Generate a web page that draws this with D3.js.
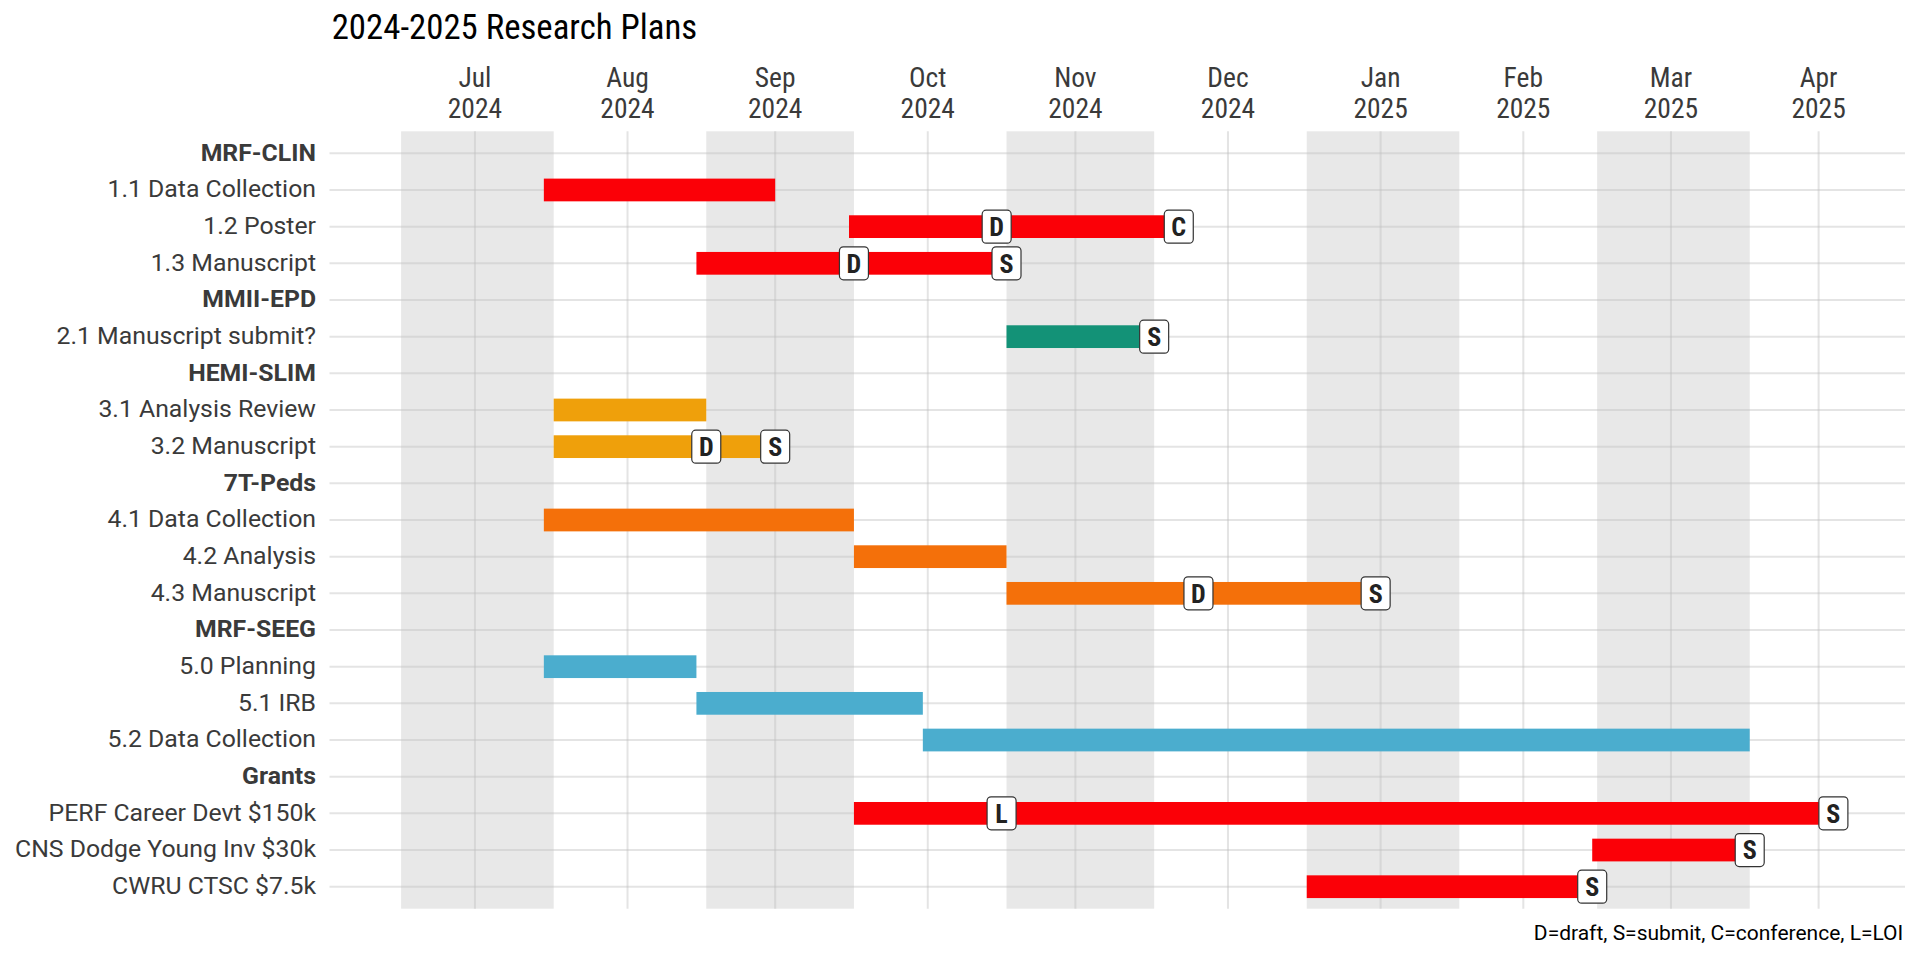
<!DOCTYPE html>
<html>
<head>
<meta charset="utf-8">
<script src="https://cdn.jsdelivr.net/npm/d3@7"></script>
<style>
  html, body { margin: 0; padding: 0; background: #fff; }
  svg { display: block; }
  text { font-family: Roboto, sans-serif; }
  .cond { font-stretch: 75%; }
  .reg { font-stretch: 100%; }
</style>
</head>
<body>
<svg id="chart" width="1920" height="960"></svg>
<script>
// ---------------- data ----------------
const title = "2024-2025 Research Plans";
const caption = "D=draft, S=submit, C=conference, L=LOI";

const rowLabels = [
  "MRF-CLIN", "1.1 Data Collection", "1.2 Poster", "1.3 Manuscript",
  "MMII-EPD", "2.1 Manuscript submit?",
  "HEMI-SLIM", "3.1 Analysis Review", "3.2 Manuscript",
  "7T-Peds", "4.1 Data Collection", "4.2 Analysis", "4.3 Manuscript",
  "MRF-SEEG", "5.0 Planning", "5.1 IRB", "5.2 Data Collection",
  "Grants", "PERF Career Devt $150k", "CNS Dodge Young Inv $30k", "CWRU CTSC $7.5k"
];
const headerRows = ["MRF-CLIN", "MMII-EPD", "HEMI-SLIM", "7T-Peds", "MRF-SEEG", "Grants"];

const taskNames = [
  "1.1 Data Collection", "1.2 Poster", "1.3 Manuscript",
  "2.1 Manuscript submit?",
  "3.1 Analysis Review", "3.2 Manuscript",
  "4.1 Data Collection", "4.2 Analysis", "4.3 Manuscript",
  "5.0 Planning", "5.1 IRB", "5.2 Data Collection",
  "PERF Career Devt $150k", "CNS Dodge Young Inv $30k", "CWRU CTSC $7.5k"
];
const taskRows = [1, 2, 3, 5, 7, 8, 10, 11, 12, 14, 15, 16, 18, 19, 20];
const taskStart = [
  "2024-07-30", "2024-09-30", "2024-08-30",
  "2024-11-01",
  "2024-08-01", "2024-08-01",
  "2024-07-30", "2024-10-01", "2024-11-01",
  "2024-07-30", "2024-08-30", "2024-10-15",
  "2024-10-01", "2025-02-28", "2025-01-01"
];
const taskEnd = [
  "2024-09-15", "2024-12-06", "2024-11-01",
  "2024-12-01",
  "2024-09-01", "2024-09-15",
  "2024-10-01", "2024-11-01", "2025-01-15",
  "2024-08-30", "2024-10-15", "2025-04-01",
  "2025-04-18", "2025-04-01", "2025-02-28"
];
const taskGroup = [
  "MRF-CLIN", "MRF-CLIN", "MRF-CLIN",
  "MMII-EPD",
  "HEMI-SLIM", "HEMI-SLIM",
  "7T-Peds", "7T-Peds", "7T-Peds",
  "MRF-SEEG", "MRF-SEEG", "MRF-SEEG",
  "Grants", "Grants", "Grants"
];
const groupNames = ["MRF-CLIN", "MMII-EPD", "HEMI-SLIM", "7T-Peds", "MRF-SEEG", "Grants"];
const groupColors = ["#FB0007", "#139277", "#EFA00B", "#F4700A", "#4BADCE", "#FB0007"];

const milestoneRows = [2, 2, 3, 3, 5, 8, 8, 12, 12, 18, 18, 19, 20];
const milestoneDates = [
  "2024-10-30", "2024-12-06", "2024-10-01", "2024-11-01", "2024-12-01",
  "2024-09-01", "2024-09-15", "2024-12-10", "2025-01-15",
  "2024-10-31", "2025-04-18", "2025-04-01", "2025-02-28"
];
const milestoneLetters = ["D", "C", "D", "S", "S", "D", "S", "D", "S", "L", "S", "S", "S"];

const tickDates = [
  "2024-07-16", "2024-08-16", "2024-09-15", "2024-10-16", "2024-11-15",
  "2024-12-16", "2025-01-16", "2025-02-14", "2025-03-16", "2025-04-15"
];
const bandStarts = ["2024-07-01", "2024-09-01", "2024-11-01", "2025-01-01", "2025-03-01"];
const bandEnds   = ["2024-08-01", "2024-10-01", "2024-12-01", "2025-02-01", "2025-04-01"];

// ---------------- layout ----------------
const parse = d3.utcParse("%Y-%m-%d");
const panel = { left: 329.5, right: 1905, top: 131.3, bottom: 908.7 };

const dataMin = parse("2024-07-01");
const dataMax = d3.max(milestoneDates.map(parse));
const span = dataMax - dataMin;
const x = d3.scaleUtc()
  .domain([new Date(+dataMin - 0.05 * span), new Date(+dataMax + 0.05 * span)])
  .range([panel.left, panel.right]);
const y = d3.scalePoint()
  .domain(rowLabels)
  .range([panel.top, panel.bottom])
  .padding(0.6);
const color = d3.scaleOrdinal().domain(groupNames).range(groupColors);

const svg = d3.select("#chart");
const barH = y.step() * 0.62;

// bands
svg.append("g").selectAll("rect").data(bandStarts).join("rect")
  .attr("x", (d) => x(parse(d)))
  .attr("width", (d, i) => x(parse(bandEnds[i])) - x(parse(d)))
  .attr("y", panel.top)
  .attr("height", panel.bottom - panel.top)
  .attr("fill", "#E8E8E8");

// gridlines
const grid = svg.append("g").attr("stroke", "rgba(190,190,190,0.42)").attr("stroke-width", 2);
grid.selectAll("line.h").data(rowLabels).join("line").attr("class", "h")
  .attr("x1", panel.left).attr("x2", panel.right)
  .attr("y1", (d) => y(d)).attr("y2", (d) => y(d));
grid.selectAll("line.v").data(tickDates).join("line").attr("class", "v")
  .attr("x1", (d) => x(parse(d))).attr("x2", (d) => x(parse(d)))
  .attr("y1", panel.top).attr("y2", panel.bottom);

// bars
svg.append("g").selectAll("rect").data(taskNames).join("rect")
  .attr("x", (d, i) => x(parse(taskStart[i])))
  .attr("width", (d, i) => x(parse(taskEnd[i])) - x(parse(taskStart[i])))
  .attr("y", (d, i) => y(rowLabels[taskRows[i]]) - barH / 2)
  .attr("height", barH)
  .attr("fill", (d, i) => color(taskGroup[i]));

// milestone labels
const mg = svg.append("g").selectAll("g").data(milestoneLetters).join("g")
  .attr("transform", (d, i) => `translate(${x(parse(milestoneDates[i]))},${y(rowLabels[milestoneRows[i]])})`);
mg.append("rect")
  .attr("x", -14.5).attr("y", -16.5).attr("width", 29).attr("height", 33)
  .attr("rx", 4).attr("ry", 4)
  .attr("fill", "#fff").attr("stroke", "#333").attr("stroke-width", 1.2);
mg.append("text").attr("class", "cond")
  .attr("text-anchor", "middle").attr("y", 9.3)
  .attr("font-size", 26).attr("font-weight", 700).attr("fill", "#222")
  .text((d) => d);

// y axis labels
svg.append("g").selectAll("text").data(rowLabels).join("text")
  .attr("class", "reg")
  .attr("x", 316).attr("y", (d) => y(d) + 7.2)
  .attr("text-anchor", "end")
  .attr("font-size", 24.8)
  .attr("font-weight", (d) => headerRows.includes(d) ? 700 : 400)
  .attr("fill", "#3a3a3a")
  .text((d) => d);

// x axis labels (top)
const fmtM = d3.utcFormat("%b"), fmtY = d3.utcFormat("%Y");
const xl = svg.append("g").selectAll("text").data(tickDates).join("text")
  .attr("class", "cond")
  .attr("text-anchor", "middle").attr("font-size", 27.5).attr("fill", "#3a3a3a")
  .attr("x", (d) => x(parse(d)));
xl.append("tspan").attr("x", (d) => x(parse(d))).attr("y", 87.3).text((d) => fmtM(parse(d)));
xl.append("tspan").attr("x", (d) => x(parse(d))).attr("y", 118.3).text((d) => fmtY(parse(d)));

// title
svg.append("text").attr("class", "cond").attr("x", 331.7).attr("y", 39.3)
  .attr("font-size", 34.8).attr("fill", "#000").text(title);

// caption
svg.append("text").attr("class", "reg").attr("x", 1903.3).attr("y", 940)
  .attr("text-anchor", "end").attr("font-size", 21).attr("fill", "#000").text(caption);
</script>
</body>
</html>
